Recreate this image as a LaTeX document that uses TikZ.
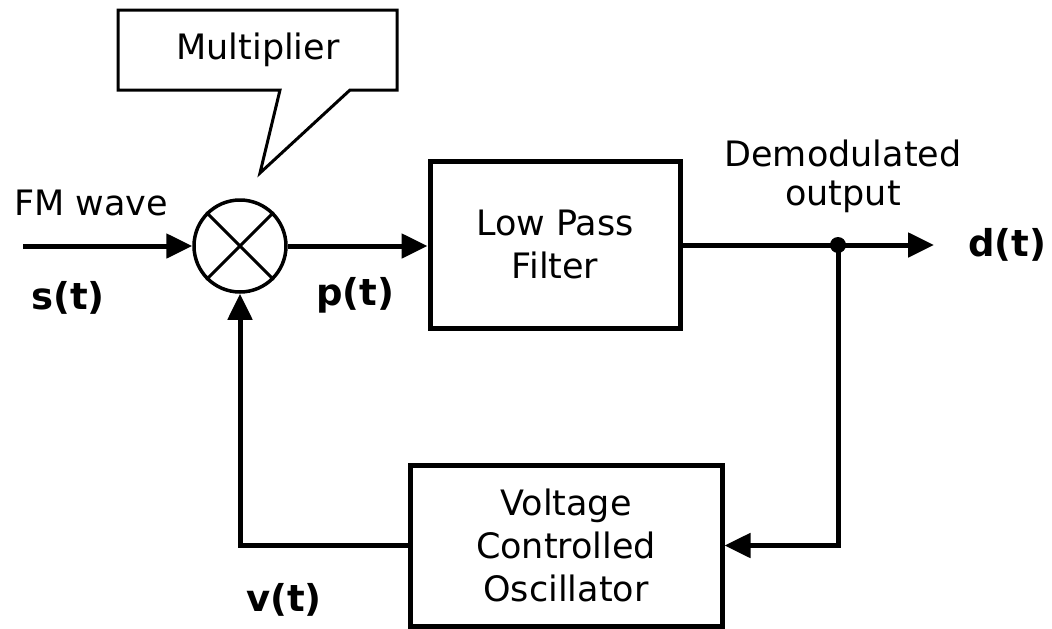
\documentclass[tikz,border=0pt]{standalone}
\usepackage{fontspec}
\setmainfont{DejaVu Sans}
\usetikzlibrary{arrows.meta,calc}
\begin{document}
\begin{tikzpicture}[x=1pt,y=-1pt,
  blk/.style={draw,line width=5pt,minimum width=#1,inner sep=0pt,align=center,font=\fontsize{35}{43}\selectfont},
  conn/.style={line width=5pt},
  arr/.style={line width=5pt,-{Triangle[length=26pt,width=24pt]}},
  lbl/.style={inner sep=0pt,font=\fontsize{35}{43}\selectfont,align=center},
  blbl/.style={inner sep=0pt,font=\bfseries\fontsize{37}{43}\selectfont}]
\useasboundingbox (0,0) rectangle (1052,629);
% blocks
\node[blk=250pt,minimum height=167pt] (lpf) at (555,244.5) {Low Pass\\Filter};
\node[blk=312pt,minimum height=161pt] (vco) at (566,545.5) {Voltage\\Controlled\\Oscillator};
\node[draw,circle,line width=3.5pt,minimum size=92pt,inner sep=0pt] (mult) at (240,246) {};
\draw[line width=3pt] (mult.45) -- (mult.225) (mult.135) -- (mult.315);
% callout
\draw[line width=3pt,line join=miter] (118,10) -- (397,10) -- (397,90) -- (350,90) -- (260,173) -- (280,90) -- (118,90) -- cycle;
\node[lbl] (multlbl) at (258,50) {Multiplier};
% connectors
\coordinate (in) at (23,246);
\coordinate (out) at (934,245);
\coordinate (tap) at (838,245);
\coordinate (fb) at (240,545.5);
\draw[arr] (in) -- (mult.west);
\draw[arr] (mult.east) -- (mult.east -| lpf.west);
\draw[arr] (lpf.east |- out) -- (out);
\fill (tap) circle (8pt);
\draw[arr,line join=miter] (tap) -- (tap |- vco.east) -- (vco.east);
\draw[arr,line join=miter] (vco.west) -- (fb) -- (mult.south);
% labels
\node[lbl] (fm) at (91,203) {FM wave};
\node[blbl] (st) at (68,298) {s(t)};
\node[blbl] (pt) at (355,295) {p(t)};
\node[blbl] (vt) at (284,600) {v(t)};
\node[blbl] (dt) at (1007,245) {d(t)};
\node[lbl] (demod) at (843,176) {Demodulated\\[-4pt]output};
\end{tikzpicture}
\end{document}
